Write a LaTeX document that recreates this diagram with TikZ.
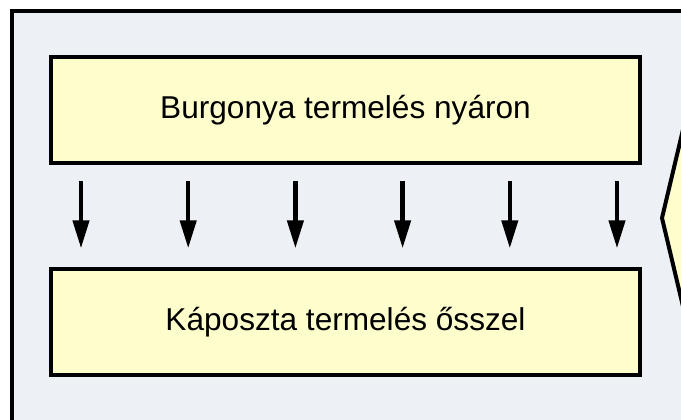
\documentclass[tikz,border=0pt]{standalone}
\usepackage{fontspec}
\setmainfont{Liberation Sans}
\usetikzlibrary{arrows.meta,positioning}
\definecolor{panel}{HTML}{EDF0F5}
\definecolor{cream}{HTML}{FEFDCC}

\begin{document}
\begin{tikzpicture}[
    x=0.75pt, y=-0.75pt,
    box/.style={draw, line width=3pt, fill=cream, minimum width=441.75pt, minimum height=79.5pt, align=center, font=\fontsize{23.7}{28}\selectfont},
    flow/.style={-{Triangle[length=21pt, width=12pt]}, line width=3.2pt, shorten <=12pt, shorten >=14pt}
]
    \clip (0,0) rectangle (681,419);
    % outer panel and cut-off shape on the right
    \draw[line width=3pt, fill=panel] (12,11) rectangle (760,470);
    \draw[line width=3pt, fill=cream] (700,58) -- (662,218) -- (700,378) -- (760,378) -- (760,58) -- cycle;

    \node[box, anchor=north west] (summer) at (49,55) {Burgonya termelés nyáron};
    \node[box, below=76.5pt of summer] (autumn) {Káposzta termelés ősszel};

    \foreach \i in {0,...,5}
        \draw[flow] ([xshift=24pt+\i*80.4pt]summer.south west) -- ([xshift=24pt+\i*80.4pt]autumn.north west);
\end{tikzpicture}
\end{document}
